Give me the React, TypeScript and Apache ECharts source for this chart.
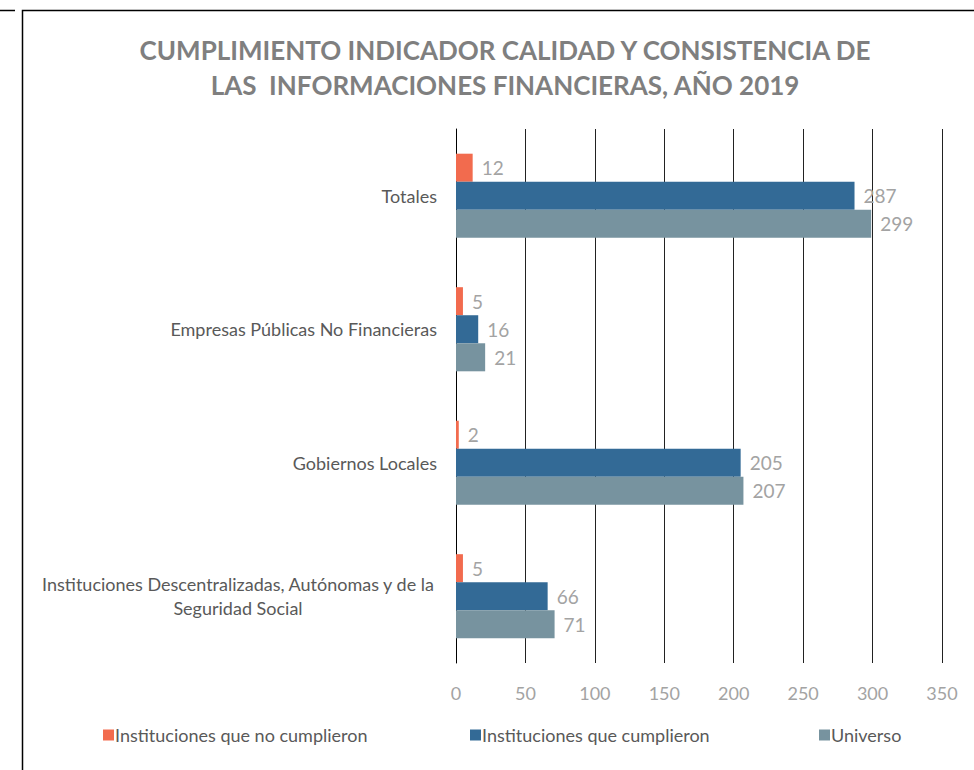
import React, { useEffect, useRef } from "react";
import * as echarts from "echarts";

const categories = [
  "Instituciones Descentralizadas, Autónomas y de la\nSeguridad Social",
  "Gobiernos Locales",
  "Empresas Públicas No Financieras",
  "Totales",
];
const noCumplieron = [5, 2, 5, 12];
const cumplieron = [66, 205, 16, 287];
const universo = [71, 207, 21, 299];
const seriesNames = ["Instituciones que no cumplieron", "Instituciones que cumplieron", "Universo"];
const colors = ["#F26B4E", "#336A96", "#77939F"];

const FONT = "Lato";

export default function App() {
  const ref = useRef<HTMLDivElement>(null);
  useEffect(() => {
    const chart = echarts.init(ref.current!, undefined, { renderer: "svg" });
    const label = {
      show: true,
      position: "right" as const,
      distance: 9,
      color: "#A3A3A3",
      fontSize: 19,
      fontFamily: FONT,
    };
    const legendBase = {
      itemWidth: 11,
      itemHeight: 11,
      itemGap: 4,
      icon: "rect",
      textStyle: { color: "#595959", fontSize: 18, fontFamily: FONT, padding: [0, 0, 0, -4] },
      top: 721,
    };
    const seriesData = [noCumplieron, cumplieron, universo];
    chart.setOption({
      animation: false,
      backgroundColor: "#ffffff",
      title: {
        text: "CUMPLIMIENTO INDICADOR CALIDAD Y CONSISTENCIA DE\nLAS  INFORMACIONES FINANCIERAS, AÑO 2019",
        left: 500,
        textAlign: "center",
        top: 27,
        textStyle: {
          color: "#7F7F7F",
          fontSize: 26,
          fontWeight: "bold",
          fontFamily: FONT,
          lineHeight: 35,
        },
      },
      legend: [
        { ...legendBase, left: 98, data: [seriesNames[0]] },
        { ...legendBase, left: 465, data: [seriesNames[1]] },
        { ...legendBase, left: 814, data: [seriesNames[2]] },
      ],
      grid: { left: 456, right: 32, top: 129, bottom: 107 },
      xAxis: {
        type: "value",
        min: 0,
        max: 350,
        interval: 50,
        axisLine: { show: false },
        axisTick: { show: false },
        axisLabel: { color: "#A3A3A3", fontSize: 18, fontFamily: FONT, margin: 21 },
        splitLine: { show: true, lineStyle: { color: "#222222", width: 1 } },
      },
      yAxis: {
        type: "category",
        data: categories,
        axisLine: { show: true, lineStyle: { color: "#000000" } },
        axisTick: { show: false },
        axisLabel: {
          color: "#595959",
          fontSize: 18,
          fontFamily: FONT,
          margin: 19,
          lineHeight: 24,
          formatter: (v: string) => {
            if (v.indexOf("\n") < 0) return v;
            return v
              .split("\n")
              .map((s) => "{w|" + s + "}")
              .join("\n");
          },
          rich: {
            w: {
              width: 398,
              align: "center",
              color: "#595959",
              fontSize: 18,
              fontFamily: FONT,
              lineHeight: 24,
            },
          },
        },
      },
      series: seriesNames.map((name, i) => ({
        name,
        type: "bar",
        data: seriesData[i],
        itemStyle: { color: colors[i] },
        barGap: "0%",
        barCategoryGap: "37%",
        label,
      })),
      graphic: [
        {
          type: "rect",
          shape: { x: 22.5, y: 10.5, width: 1000, height: 1000 },
          style: { fill: "none", stroke: "#000000", lineWidth: 1.5 },
          silent: true,
        },
        {
          type: "line",
          shape: { x1: 0, y1: 10.5, x2: 15, y2: 10.5 },
          style: { stroke: "#000000", lineWidth: 1.5 },
          silent: true,
        },
      ],
    });
    return () => chart.dispose();
  }, []);
  return (
    <div
      ref={ref}
      style={{ position: "fixed", left: 0, top: 0, width: 974, height: 770 }}
    />
  );
}
